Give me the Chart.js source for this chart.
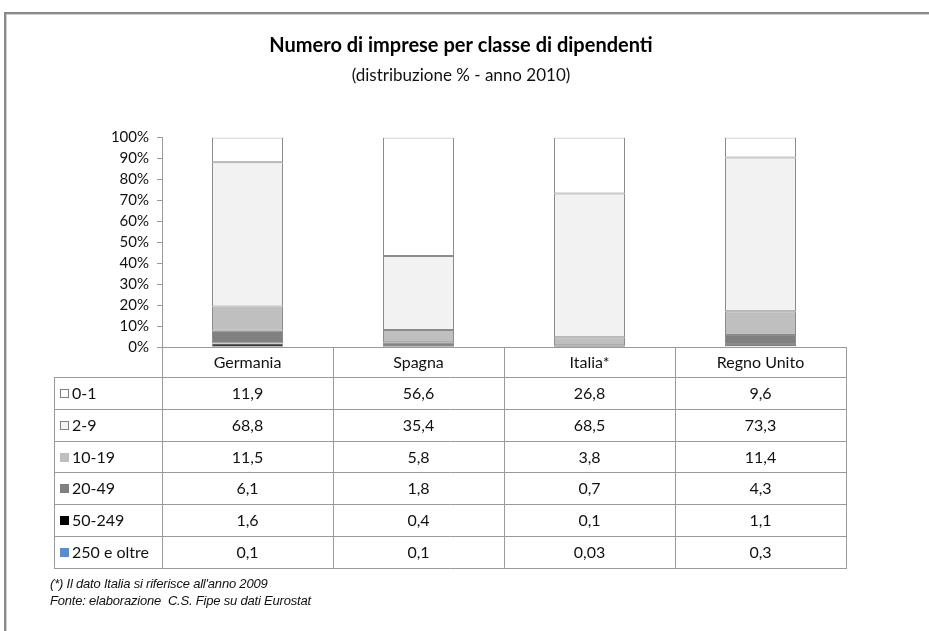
<!DOCTYPE html>
<html>
<head>
<meta charset="utf-8">
<script src="https://cdn.jsdelivr.net/npm/chart.js@4"></script>
<style>
  html, body { margin: 0; padding: 0; background: #fff; overflow: hidden; }
  #wrap { position: relative; width: 929px; height: 631px; }
  #frame { position: absolute; left: 4px; top: 12px; width: 1000px; height: 700px;
           border-left: 2px solid #8a8a8a; border-top: 2px solid #8a8a8a; box-shadow: inset 1px 1px 0 #cfcfcf; }
  canvas { position: absolute; left: 0; top: 0; }
  #note { position: absolute; left: 50px; top: 575px; font: italic 13px "Liberation Sans", Arial, sans-serif;
          color: #111; line-height: 17px; letter-spacing: -0.2px; }
</style>
</head>
<body>
<div id="wrap">
  <div id="frame"></div>
  <canvas id="chart" width="929" height="631"></canvas>
  <div id="note">(*) Il dato Italia si riferisce all'anno 2009<br>Fonte: elaborazione &nbsp;C.S. Fipe su dati Eurostat</div>
</div>
<script>
const categories = ["Germania", "Spagna", "Italia*", "Regno Unito"];
const classes = ["0-1", "2-9", "10-19", "20-49", "50-249", "250 e oltre"];

// % values, same order as the classes (table rows top to bottom)
const v0_1 = [11.9, 56.6, 26.8, 9.6];
const v2_9 = [68.8, 35.4, 68.5, 73.3];
const v10_19 = [11.5, 5.8, 3.8, 11.4];
const v20_49 = [6.1, 1.8, 0.7, 4.3];
const v50_249 = [1.6, 0.4, 0.1, 1.1];
const v250 = [0.1, 0.1, 0.03, 0.3];

const yTicks = [0, 10, 20, 30, 40, 50, 60, 70, 80, 90, 100];

const seriesValues = [v0_1, v2_9, v10_19, v20_49, v50_249, v250];
const colors = ["#ffffff", "#f2f2f2", "#bfbfbf", "#808080", "#000000", "#558ed5"];

const FONT = "Lato, 'Open Sans', sans-serif";
const lineColor = "#9a9a9a";

// 100% stacked: each column normalised to its total
const totals = categories.map((_, i) => seriesValues.reduce((a, s) => a + s[i], 0));

// Chart.js stacks the first dataset at the bottom, so go from the last class up
const datasets = classes.map((c, k) => ({
  label: c,
  data: seriesValues[k].map((v, i) => v / totals[i] * 100),
  backgroundColor: colors[k],
  borderColor: "#8c8c8c",
  borderWidth: 1,
  borderSkipped: false,
  barPercentage: 71 / 171,
  categoryPercentage: 1
})).reverse();

const fmt = v => String(v).replace(".", ",");

const tablePlugin = {
  id: "dataTable",
  afterDraw(chart) {
    const { ctx, chartArea, scales } = chart;
    const x = scales.x;
    const colW = x.getPixelForValue(1) - x.getPixelForValue(0);
    const top = chartArea.bottom;
    const headH = 30;
    const rowH = 31.8;
    const labelLeft = 54;
    const bottom = top + headH + rowH * classes.length;

    ctx.save();
    ctx.strokeStyle = lineColor;
    ctx.lineWidth = 1;

    // vertical lines of the columns
    for (let i = 0; i <= categories.length; i++) {
      const lx = Math.round(chartArea.left + i * colW) + 0.5;
      ctx.beginPath();
      ctx.moveTo(lx, top);
      ctx.lineTo(lx, bottom);
      ctx.stroke();
    }
    // left edge of the label column
    ctx.beginPath();
    ctx.moveTo(labelLeft + 0.5, top + headH);
    ctx.lineTo(labelLeft + 0.5, bottom);
    ctx.stroke();
    // horizontal lines
    for (let r = 0; r <= classes.length; r++) {
      const ly = Math.round(top + headH + r * rowH) + 0.5;
      ctx.beginPath();
      ctx.moveTo(labelLeft, ly);
      ctx.lineTo(chartArea.right + 1, ly);
      ctx.stroke();
    }

    ctx.fillStyle = "#111";
    ctx.font = "16px " + FONT;
    ctx.textBaseline = "middle";
    ctx.textAlign = "center";
    categories.forEach((c, i) => {
      ctx.fillText(c, x.getPixelForValue(i), top + headH / 2 + 1);
    });

    classes.forEach((c, k) => {
      const cy = top + headH + rowH * k + rowH / 2 + 1;
      // legend swatch
      ctx.fillStyle = colors[k];
      ctx.fillRect(60, Math.round(cy - 5), 9, 9);
      ctx.strokeStyle = k < 2 ? "#7f7f7f" : colors[k];
      ctx.strokeRect(60.5, Math.round(cy - 5) + 0.5, 8, 8);
      ctx.fillStyle = "#111";
      ctx.textAlign = "left";
      ctx.fillText(c, 72, cy);
      ctx.textAlign = "center";
      seriesValues[k].forEach((v, i) => {
        ctx.fillText(fmt(v), x.getPixelForValue(i), cy);
      });
    });
    ctx.restore();
  }
};

new Chart(document.getElementById("chart"), {
  type: "bar",
  data: { labels: categories, datasets },
  plugins: [tablePlugin],
  options: {
    responsive: false,
    animation: false,
    layout: { padding: { left: 76, top: 0, right: 83, bottom: 284 } },
    plugins: {
      legend: { display: false },
      tooltip: { enabled: false },
      title: {
        display: true,
        text: "Numero di imprese per classe di dipendenti",
        color: "#000",
        font: { family: FONT, size: 20, weight: "bold" },
        padding: { top: 34, bottom: 0 }
      },
      subtitle: {
        display: true,
        text: "(distribuzione % - anno 2010)",
        color: "#111",
        font: { family: FONT, size: 17 },
        padding: { top: 7, bottom: 52 }
      }
    },
    scales: {
      x: {
        stacked: true,
        grid: { display: false },
        ticks: { display: false },
        border: { display: true, color: lineColor },
        afterFit: s => { s.height = 0; }
      },
      y: {
        stacked: true,
        min: 0,
        max: 100,
        afterBuildTicks: s => { s.ticks = yTicks.map(v => ({ value: v })); },
        ticks: {
          color: "#111",
          font: { family: FONT, size: 15 },
          padding: 8,
          autoSkip: false,
          callback: v => v + "%"
        },
        grid: { drawOnChartArea: false, drawTicks: true, tickLength: 5, color: lineColor },
        border: { display: true, color: lineColor },
        afterFit: s => { s.width = 86; }
      }
    }
  }
});
</script>
</body>
</html>
